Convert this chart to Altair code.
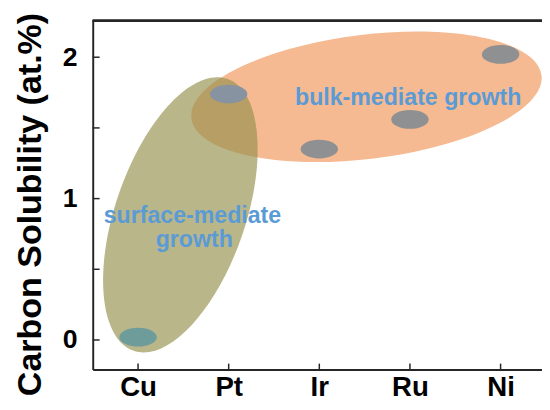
import altair as alt
import pandas as pd

# ---- data ----
metals = ["Cu", "Pt", "Ir", "Ru", "Ni"]
metal_pos = [0, 1, 2, 3, 4]
solubility = [0.02, 1.74, 1.35, 1.56, 2.02]
dot_colors = ["#6E9C9B", "#8893A2", "#8F9091", "#8F9091", "#8F9091"]

y_tick_values = [0, 0.5, 1, 1.5, 2]
y_label_values = [0, 1, 2]

# region ellipses (centre in data units)
bulk_center = [2.52, 1.72]
surface_center = [0.467, 0.885]

note_text = ["bulk-mediate growth", "surface-mediate", "growth"]
note_x = [2.98, 0.60, 0.62]
note_y = [1.66, 0.83, 0.655]

FONT = "Liberation Sans"
W, H = 456, 354


def ellipse_path(r):
    k = 0.5523
    return (
        f"M-1,0C-1,{-k*r:.4f},{-k:.4f},{-r:.4f},0,{-r:.4f}"
        f"C{k:.4f},{-r:.4f},1,{-k*r:.4f},1,0"
        f"C1,{k*r:.4f},{k:.4f},{r:.4f},0,{r:.4f}"
        f"C{-k:.4f},{r:.4f},-1,{k*r:.4f},-1,0Z"
    )


x_axis = alt.Axis(
    values=metal_pos,
    labelExpr="[" + ",".join(f"'{m}'" for m in metals) + "][datum.value]",
    ticks=False, tickSize=0, grid=False, title=None,
    labelFont=FONT, labelFontSize=28, labelFontWeight="bold", labelColor="#000",
    labelPadding=4, domainColor="#262626", domainWidth=2,
)
y_axis = alt.Axis(
    values=y_label_values, format="d",
    ticks=False, tickSize=0, grid=False, title="Carbon Solubility (at.%)",
    labelFont=FONT, labelFontSize=27, labelFontWeight="bold", labelColor="#000",
    labelPadding=16, domainColor="#262626", domainWidth=2,
    titleFont=FONT, titleFontSize=34.5, titleFontWeight="bold", titleColor="#000",
    titlePadding=15, titleY=186,
)


def X(field="x"):
    return alt.X(f"{field}:Q", scale=alt.Scale(domain=[-0.5, 4.457], nice=False, zero=False), axis=x_axis)


def Y(field="y"):
    return alt.Y(f"{field}:Q", scale=alt.Scale(domain=[-0.209, 2.258], nice=False, zero=False), axis=y_axis)


pts = pd.DataFrame({"x": metal_pos, "y": solubility, "metal": metals})
bulk = pd.DataFrame({"x": [bulk_center[0]], "y": [bulk_center[1]]})
surf = pd.DataFrame({"x": [surface_center[0]], "y": [surface_center[1]]})
notes = pd.DataFrame({"x": note_x, "y": note_y, "t": note_text})
yticks = pd.DataFrame({"y": y_tick_values})
xticks = pd.DataFrame({"x": metal_pos})

bulk_layer = alt.Chart(bulk).mark_point(
    shape=ellipse_path(63 / 179), size=358 ** 2, angle=353,
    filled=True, color="#F5BA92", opacity=1, strokeWidth=0,
).encode(x=X(), y=Y())

surf_layer = alt.Chart(surf).mark_point(
    shape=ellipse_path(66 / 146), size=292 ** 2, angle=289,
    filled=True, color="#948F4B", opacity=0.65, strokeWidth=0,
).encode(x=X(), y=Y())

dots = alt.Chart(pts).mark_point(
    shape=ellipse_path(0.5), size=38 ** 2, filled=True, opacity=1, strokeWidth=0,
).encode(
    x=X(), y=Y(),
    color=alt.Color("metal:N", scale=alt.Scale(domain=metals, range=dot_colors), legend=None),
)

text_layer = alt.Chart(notes).mark_text(
    font=FONT, fontSize=23.5, fontWeight="bold", color="#5B9BD5",
    align="center", baseline="alphabetic",
).encode(x=X(), y=Y(), text="t:N")

ytick_layer = alt.Chart(yticks).mark_rule(color="#262626", strokeWidth=1.5).encode(
    y=Y(), x=alt.value(0), x2=alt.value(7)
)
xtick_layer = alt.Chart(xticks).mark_rule(color="#262626", strokeWidth=1.5).encode(
    x=X(), y=alt.value(H), y2=alt.value(H - 6)
)
top_line = alt.Chart(xticks).mark_rule(color="#262626", strokeWidth=2).encode(
    x=alt.value(0), x2=alt.value(W), y=alt.value(0)
)

chart = alt.layer(
    bulk_layer, surf_layer, dots, text_layer, ytick_layer, xtick_layer, top_line
).properties(
    width=W, height=H,
    padding={"left": 86, "top": 10, "right": 0, "bottom": 29},
    autosize=alt.AutoSizeParams(type="none"),
).configure_view(stroke=None)

chart.save("out.html", embed_options={"renderer": "svg", "actions": False})
